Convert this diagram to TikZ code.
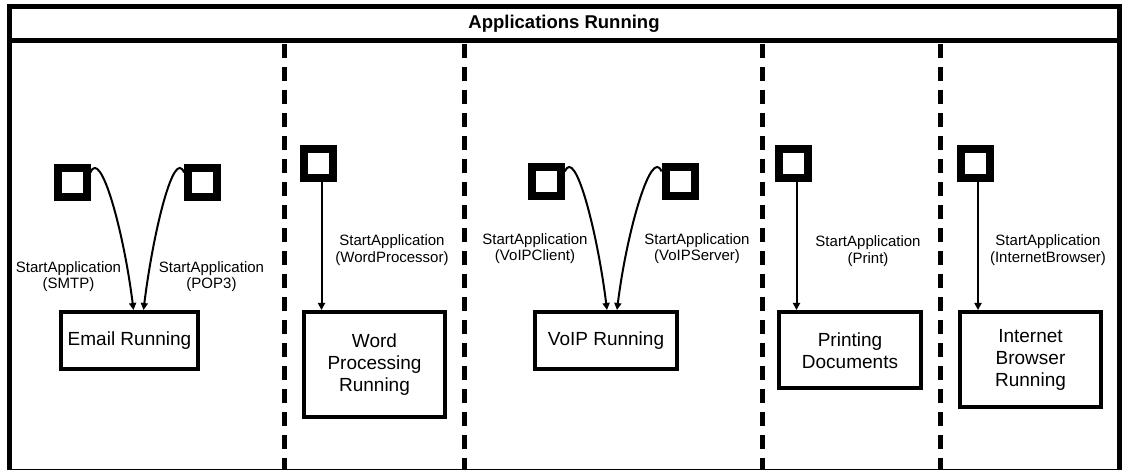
\documentclass[tikz,border=0pt]{standalone}
\usepackage{fontspec}
\setmainfont{Liberation Sans}
\usetikzlibrary{arrows.meta,positioning}

\begin{document}
\begin{tikzpicture}[
        x=1pt, y=1pt,
        frame/.style={line width=5pt},
        lane/.style={line width=5pt, dash pattern=on 14pt off 9pt},
        appstate/.style={draw, line width=4.5pt, minimum width=141pt, minimum height=57pt, align=center, anchor=north, font=\fontsize{19}{22}\selectfont},
        initbox/.style={draw, line width=8pt, minimum size=29pt, inner sep=0pt},
        trans/.style={align=center, inner sep=0pt, font=\fontsize{15}{16.5}\selectfont},
        arrow/.style={-{Triangle[length=7pt,width=7pt]}, line width=2pt}
    ]
        \useasboundingbox (0,0) rectangle (1123,470);

        % outer frame and swimlanes
        \draw[frame] (9.5,-2) rectangle (1119,463.5);
        \draw[frame] (9.5,429) -- (1119,429);
        \node[font=\bfseries\fontsize{18.5}{20}\selectfont] (title) at (564,446) {Applications Running};
        \foreach \x in {284.5,464.5,762.5,940.5}
            \draw[lane] (\x,426) -- (\x,0);

        % states
        \node[appstate, minimum width=137pt] (email) at (129.5,160) {Email Running};
        \node[appstate, minimum height=105pt] (word) at (374.5,160) {Word\\Processing\\Running};
        \node[appstate, minimum width=142pt] (voip) at (606,160) {VoIP Running};
        \node[appstate, minimum width=142pt, minimum height=76pt] (print) at (850,160) {Printing\\Documents};
        \node[appstate, minimum height=95pt] (inet) at (1030.5,160) {Internet\\Browser\\Running};

        % initial markers
        \node[initbox] (email0) at (72,287.5) {};
        \node[initbox] (email1) at (202.5,287.5) {};
        \node[initbox] (word0) at (318.5,306.5) {};
        \node[initbox] (voip0) at (546.5,288.5) {};
        \node[initbox] (voip1) at (680,288.5) {};
        \node[initbox] (print0) at (793.5,306.5) {};
        \node[initbox] (inet0) at (975,306.5) {};

        % transition labels
        \node[trans] (smtp) at (68.5,193.5) {StartApplication\\(SMTP)};
        \node[trans] (pop) at (211.5,193.5) {StartApplication\\(POP3)};
        \node[trans] (wordproc) at (392,220) {StartApplication\\(WordProcessor)};
        \node[trans] (client) at (535,221.5) {StartApplication\\(VoIPClient)};
        \node[trans] (server) at (697,221.5) {StartApplication\\(VoIPServer)};
        \node[trans] (printer) at (868,219) {StartApplication\\(Print)};
        \node[trans] (browser) at (1048,220) {StartApplication\\(InternetBrowser)};

        % transitions
        \draw[arrow] ([yshift=10pt]email0.east) .. controls +(10,25) and +(-10,80) .. ([xshift=4pt]email.north);
        \draw[arrow] ([yshift=10pt]email1.west) .. controls +(-10,25) and +(10,80) .. ([xshift=14pt]email.north);
        \draw[arrow] ([xshift=3pt]word0.south) -- ([xshift=3pt]word0.south |- word.north);
        \draw[arrow] ([yshift=10pt]voip0.east) .. controls +(10,25) and +(-10,80) .. ([xshift=1pt]voip.north);
        \draw[arrow] ([yshift=10pt]voip1.west) .. controls +(-10,25) and +(10,80) .. ([xshift=11pt]voip.north);
        \draw[arrow] ([xshift=3pt]print0.south) -- ([xshift=3pt]print0.south |- print.north);
        \draw[arrow] ([xshift=3pt]inet0.south) -- ([xshift=3pt]inet0.south |- inet.north);
    \end{tikzpicture}
\end{document}
